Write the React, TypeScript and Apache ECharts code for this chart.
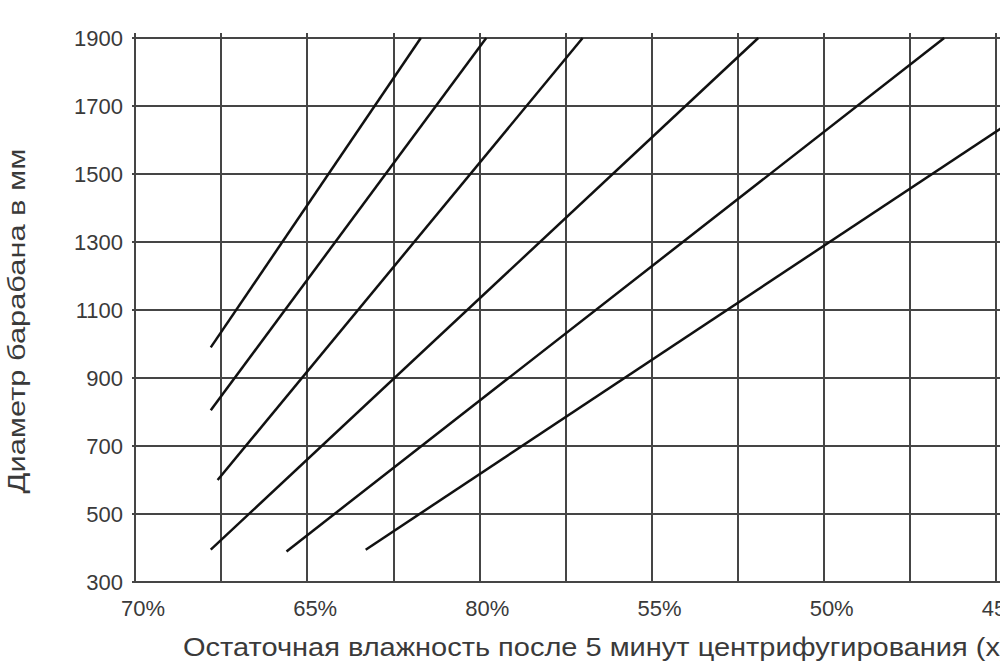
import React, { useEffect, useRef } from 'react';
import * as echarts from 'echarts';

// Тики оси X (подписи как на оригинале, включая «80%»)
const xTickValues = [70, 65, 60, 55, 50, 45];
const xTickLabels = ['70%', '65%', '80%', '55%', '50%', '45%'];

// Концы прямых: влажность (%) и диаметр барабана (мм)
const moistureStart = [67.8, 67.8, 67.6, 67.8, 65.6, 63.3];
const diameterStart = [990, 805, 600, 395, 390, 395];
const moistureEnd = [61.7, 59.8, 57.0, 51.9, 46.5, 40.9];
const diameterEnd = [1900, 1900, 1900, 1900, 1900, 1900];

const yAxisTitle = 'Диаметр барабана в мм';
const xAxisTitle = 'Остаточная влажность после 5 минут центрифугирования (х)';

const GRID_COLOR = '#454545';
const TEXT_COLOR = '#3a3a3a';
const FONT = '"Liberation Sans", Arial, sans-serif';

const App: React.FC = () => {
  const chartRef = useRef<HTMLDivElement>(null);

  useEffect(() => {
    document.body.style.margin = '0';
    if (!chartRef.current) return;
    const chart = echarts.init(chartRef.current, undefined, { renderer: 'svg' });

    const xLabel = (v: number) => {
      const i = xTickValues.findIndex((t) => Math.abs(t - v) < 1e-6);
      return i >= 0 ? xTickLabels[i] : '';
    };

    const axisCommon = {
      type: 'value' as const,
      min: 40,
      max: 70,
      interval: 2.5,
      inverse: true,
    };

    chart.setOption({
      animation: false,
      textStyle: { fontFamily: FONT },
      grid: { left: 135, top: 38, right: 32, bottom: 85 },
      xAxis: [
        {
          ...axisCommon,
          position: 'bottom',
          axisLine: { show: true, lineStyle: { color: GRID_COLOR, width: 2 } },
          axisTick: { show: false },
          splitLine: { show: true, lineStyle: { color: GRID_COLOR, width: 2 } },
          axisLabel: {
            formatter: xLabel,
            color: TEXT_COLOR,
            fontSize: 22,
            margin: 15,
            padding: [0, 0, 0, 16],
          },
        },
        {
          ...axisCommon,
          position: 'top',
          axisLine: { show: false },
          axisTick: { show: true, length: 5, lineStyle: { color: GRID_COLOR, width: 2 } },
          splitLine: { show: false },
          axisLabel: { show: false },
        },
      ],
      yAxis: {
        type: 'value',
        min: 300,
        max: 1900,
        interval: 200,
        axisLine: { show: true, lineStyle: { color: GRID_COLOR, width: 2 } },
        axisTick: { show: true, length: 3, lineStyle: { color: GRID_COLOR, width: 2 } },
        splitLine: { show: true, lineStyle: { color: GRID_COLOR, width: 2 } },
        axisLabel: {
          color: TEXT_COLOR,
          fontSize: 22,
          margin: 12,
          formatter: (v: number) => String(v),
        },
      },
      graphic: [
        {
          type: 'text',
          x: 17,
          y: 321,
          rotation: Math.PI / 2,
          scaleX: 1.34,
          style: {
            text: yAxisTitle,
            fill: TEXT_COLOR,
            font: `23px ${FONT}`,
            align: 'center',
            verticalAlign: 'middle',
          },
        },
        {
          type: 'text',
          x: 183,
          y: 647,
          scaleX: 1.16,
          style: {
            text: xAxisTitle,
            fill: TEXT_COLOR,
            font: `25px ${FONT}`,
            align: 'left',
            verticalAlign: 'middle',
          },
        },
      ],
      series: moistureStart.map((m, i) => ({
        type: 'line',
        xAxisIndex: 0,
        symbol: 'none',
        clip: false,
        lineStyle: { color: '#111', width: 2.5 },
        data: [
          [m, diameterStart[i]],
          [moistureEnd[i], diameterEnd[i]],
        ],
      })),
    });

    return () => chart.dispose();
  }, []);

  return (
    <div style={{ width: 1000, height: 667, overflow: 'hidden', background: '#fff' }}>
      <div ref={chartRef} style={{ width: 1200, height: 667 }} />
    </div>
  );
};

export default App;
